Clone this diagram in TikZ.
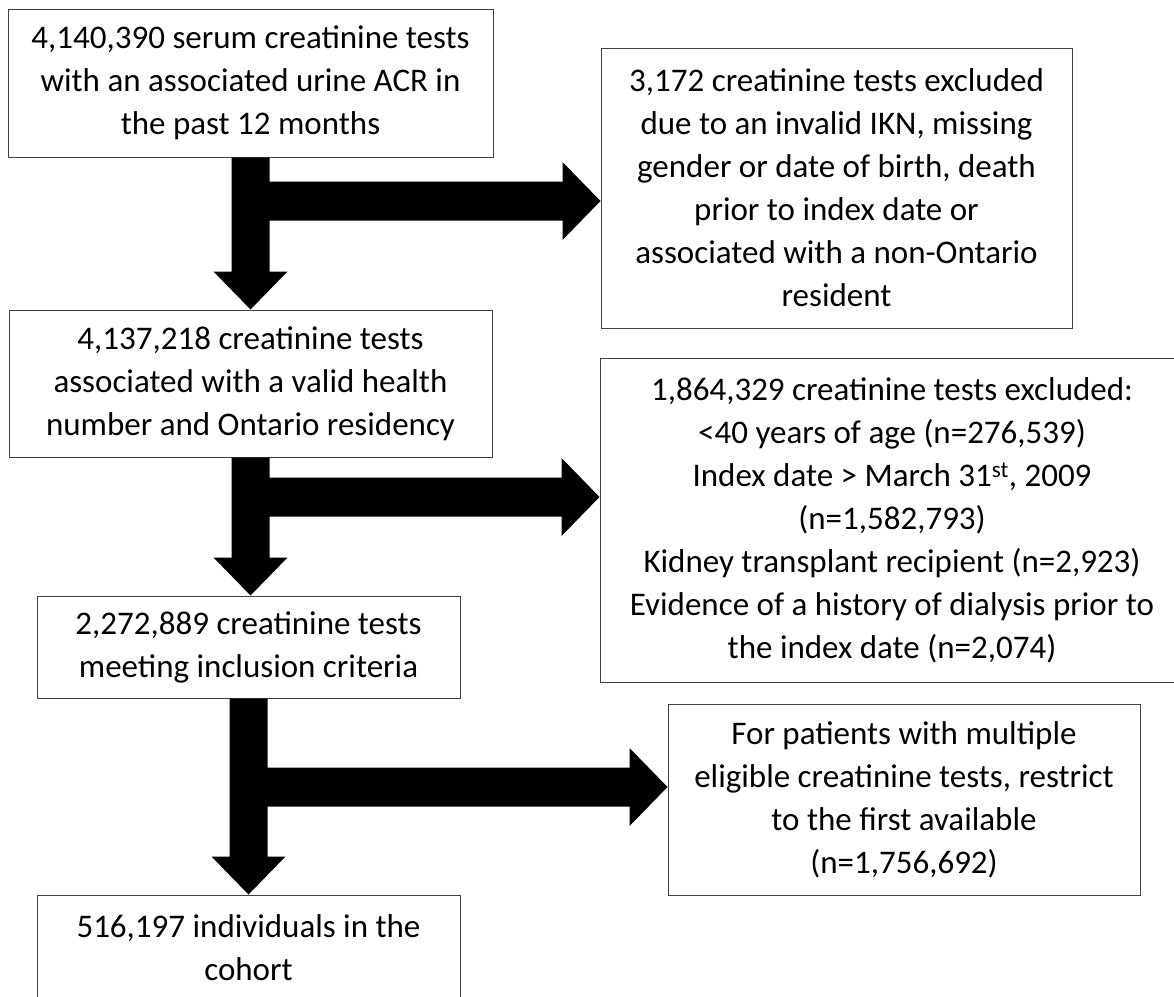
\documentclass[tikz,border=0pt]{standalone}
\usepackage{fontspec}
\setmainfont{Carlito}
\usetikzlibrary{calc}

\tikzset{
	box/.style={draw=black!75, line width=1pt, align=center, inner sep=0pt,
		font=\fontsize{33}{43}\selectfont},
}
% block arrow: down from #1 to #2, with a branch to the tip #3
\newcommand{\tarrow}[3]{%
	\fill let \p1=(#1.south), \p2=(#2.north), \p3=(#3) in
		(\x1-19pt,\y1) -- (\x1-19pt,\y2+38pt) -- (\x1-37pt,\y2+38pt) -- (\x1,\y2)
		-- (\x1+37pt,\y2+38pt) -- (\x1+19pt,\y2+38pt) -- (\x1+19pt,\y3-19.5pt)
		-- (\x3-38pt,\y3-19.5pt) -- (\x3-38pt,\y3-39pt) -- (\x3,\y3)
		-- (\x3-38pt,\y3+39pt) -- (\x3-38pt,\y3+19.5pt) -- (\x1+19pt,\y3+19.5pt)
		-- (\x1+19pt,\y1) -- cycle;
}

\begin{document}
\begin{tikzpicture}[x=1pt,y=-1pt]
		\useasboundingbox (0,0) rectangle (1174,996);
		% main column
		\node[box, minimum width=485pt, minimum height=148pt] (start) at (250.5,83)
			{4,140,390 serum creatinine tests\\with an associated urine ACR in\\the past 12 months};
		\node[box, minimum width=483pt, minimum height=147pt] (valid) at (250.5,383.5)
			{4,137,218 creatinine tests\\associated with a valid health\\number and Ontario residency};
		\node[box, minimum width=423pt, minimum height=102pt] (incl) at (248.5,647)
			{2,272,889 creatinine tests\\meeting inclusion criteria};
		\node[box, minimum width=423pt, minimum height=105pt] (cohort) at (248.5,947.5)
			{516,197 individuals in the\\cohort};
		% exclusions
		\node[box, minimum width=471pt, minimum height=280pt] (excl1) at (836.5,188)
			{3,172 creatinine tests excluded\\due to an invalid IKN, missing\\gender or date of birth, death\\prior to index date or\\associated with a non-Ontario\\resident};
		\node[box, minimum width=584pt, minimum height=324pt] (excl2) at (892,520)
			{1,864,329 creatinine tests excluded:\\<40 years of age (n=276,539)\\Index date > March 31\textsuperscript{st}, 2009\\(n=1,582,793)\\Kidney transplant recipient (n=2,923)\\Evidence of a history of dialysis prior to\\the index date (n=2,074)};
		\node[box, minimum width=472pt, minimum height=191pt] (restr) at (904,799.5)
			{For patients with multiple\\eligible creatinine tests, restrict\\to the first available\\(n=1,756,692)};
		% arrow tips on the side boxes
		\coordinate (t1) at ([yshift=-13pt]excl1.west);
		\coordinate (t2) at ([yshift=23pt]excl2.west);
		\coordinate (t3) at ([yshift=12.5pt]restr.west);
		% arrows
		\tarrow{start}{valid}{t1}
		\tarrow{valid}{incl}{t2}
		\tarrow{incl}{cohort}{t3}
	\end{tikzpicture}
\end{document}
